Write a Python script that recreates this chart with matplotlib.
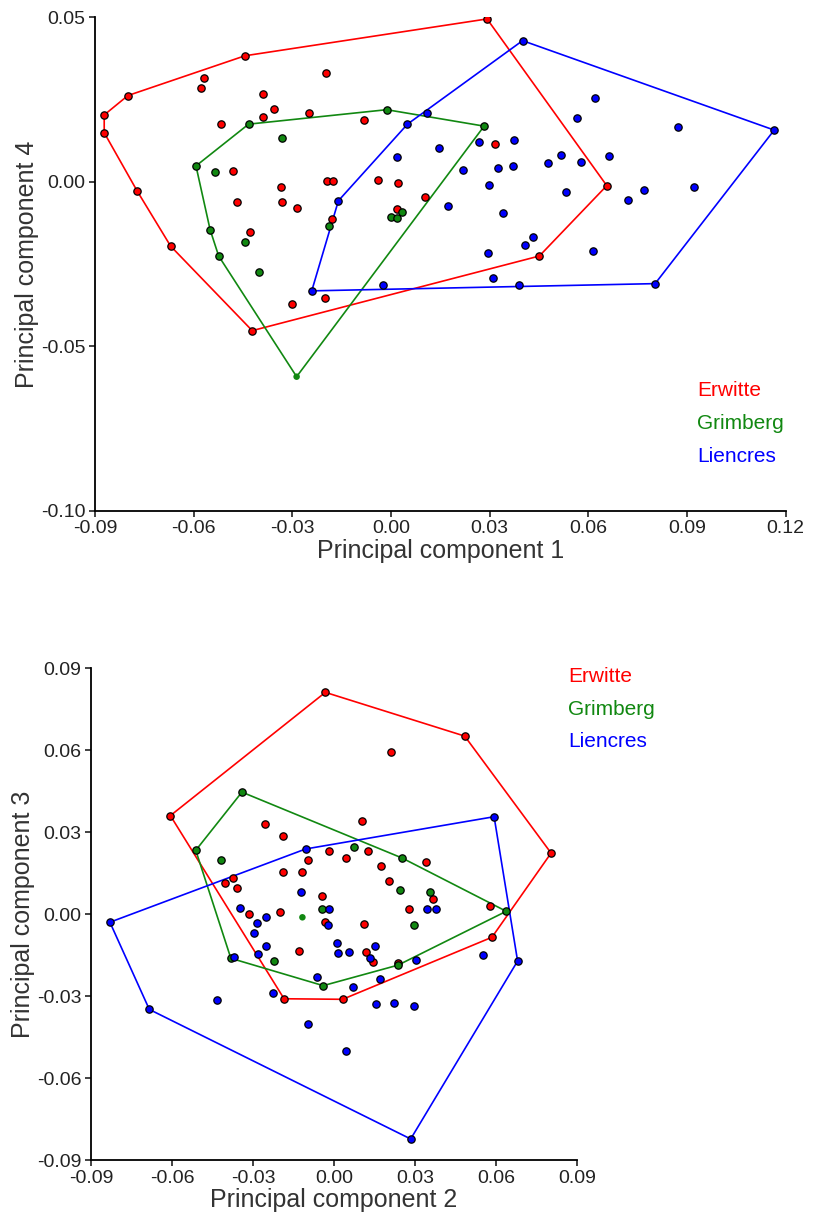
import numpy as np
import matplotlib
matplotlib.use("Agg")
import matplotlib.pyplot as plt

plt.rcParams["font.family"] = ["Liberation Sans", "DejaVu Sans"]
plt.rcParams["axes.unicode_minus"] = False

# ---- DATA ----
groups = ["Erwitte", "Grimberg", "Liencres"]
colors = {"Erwitte": "#ff0000", "Grimberg": "#118811", "Liencres": "#0000ff"}

# PC1 vs PC4
pc1_erwitte = [-0.0444, -0.080, -0.0872, -0.0872, -0.0772, -0.0569, -0.0577, -0.0389, -0.0356, -0.039,
               -0.0516, -0.025, -0.0199, -0.0479, -0.0333, -0.0196, -0.0176, -0.0469, -0.0331, -0.0287,
               -0.067, -0.0422, -0.0429, -0.0301, -0.020, -0.0179, 0.0292, -0.0082, 0.0315, -0.004,
               0.0022, 0.0104, 0.0017, 0.0451, 0.0656]
pc4_erwitte = [0.0383, 0.0262, 0.0203, 0.0149, -0.0028, 0.0316, 0.0284, 0.0266, 0.0222, 0.0198,
               0.0176, 0.021, 0.0331, 0.0033, -0.0017, 0.0002, 0.0002, -0.0063, -0.0061, -0.0079,
               -0.0196, -0.0453, -0.0152, -0.0371, -0.0354, -0.0113, 0.0495, 0.0187, 0.0116, 0.0006,
               -0.0004, -0.0047, -0.0084, -0.0226, -0.0012]

pc1_grimberg = [-0.0433, -0.033, -0.0593, -0.0535, -0.055, -0.0444, -0.0524, -0.040, -0.0188, -0.0013,
                0.0283, 0.0033, 0.0, 0.0017, -0.0287]
pc4_grimberg = [0.0175, 0.0134, 0.0048, 0.0029, -0.0146, -0.0183, -0.0226, -0.0275, -0.0134, 0.0219,
                0.0169, -0.0092, -0.0106, -0.0111, -0.0593]

pc1_liencres = [-0.016, -0.0241, 0.0400, 0.0108, 0.005, 0.0269, 0.0373, 0.0146, 0.0018, 0.0218,
                0.0325, 0.0372, 0.0478, 0.0298, 0.0173, 0.0341, 0.0432, 0.0408, 0.0294, 0.0311,
                0.0388, -0.0023, 0.0619, 0.0566, 0.0873, 0.1165, 0.0517, 0.0578, 0.0663, 0.0532,
                0.0769, 0.0722, 0.0920, 0.0614, 0.0803]
pc4_liencres = [-0.0058, -0.0332, 0.0429, 0.021, 0.0175, 0.0121, 0.0127, 0.0102, 0.0076, 0.0036,
                0.0041, 0.0049, 0.0056, -0.0011, -0.0075, -0.0096, -0.0168, -0.0192, -0.0218, -0.0293,
                -0.0314, -0.0315, 0.0255, 0.0193, 0.0165, 0.0157, 0.0082, 0.0061, 0.0079, -0.0032,
                -0.0025, -0.0057, -0.0015, -0.021, -0.031]

# PC2 vs PC3
pc2_erwitte = [-0.0032, -0.0606, -0.0254, -0.019, -0.0096, -0.0019, -0.0189, -0.0117, -0.0374, -0.0403,
               -0.036, -0.0046, -0.0314, -0.0199, -0.0032, -0.0129, -0.0185, 0.0484, 0.021, 0.0804,
               0.0103, 0.0127, 0.0043, 0.0341, 0.0175, 0.0204, 0.0368, 0.0277, 0.0579, 0.0585,
               0.011, 0.0119, 0.0143, 0.0237, 0.0032]
pc3_erwitte = [0.0812, 0.0361, 0.0329, 0.0286, 0.020, 0.0233, 0.0155, 0.0155, 0.0134, 0.0115,
               0.0097, 0.0066, 0.0002, 0.0007, -0.0028, -0.0134, -0.0309, 0.0652, 0.0593, 0.0224,
               0.0343, 0.0233, 0.0207, 0.019, 0.0178, 0.0122, 0.0057, 0.002, 0.0032, -0.0084,
               -0.0034, -0.0139, -0.0175, -0.0179, -0.0311]

pc2_grimberg = [-0.0341, -0.0512, -0.0419, -0.0046, 0.0073, 0.0252, 0.0243, 0.0356, 0.0638, 0.0297,
                0.0237, -0.004, -0.0382, -0.0222, -0.0117]
pc3_grimberg = [0.0447, 0.0234, 0.0198, 0.0019, 0.0247, 0.0206, 0.009, 0.0083, 0.0011, -0.0039,
                -0.0186, -0.0261, -0.0161, -0.0171, -0.0011]

pc2_liencres = [-0.0105, -0.0121, -0.0019, -0.0349, -0.083, -0.0684, -0.0284, -0.0251, -0.0022, -0.0297,
                -0.0252, -0.028, -0.037, -0.0063, -0.0225, -0.0432, -0.0097, 0.0593, 0.0343, 0.0378,
                0.0552, 0.068, 0.0284, 0.0044, 0.001, 0.0016, 0.0057, 0.0152, 0.0134, 0.0303,
                0.017, 0.0069, 0.0157, 0.0221, 0.0297]
pc3_liencres = [0.0239, 0.0082, 0.0019, 0.0022, -0.0029, -0.0348, -0.0032, -0.0011, -0.004, -0.0068,
                -0.0116, -0.0146, -0.0155, -0.0228, -0.0289, -0.0315, -0.040, 0.0357, 0.002, 0.002,
                -0.0149, -0.0171, -0.0822, -0.050, -0.0104, -0.014, -0.0139, -0.0116, -0.0159, -0.0168,
                -0.0236, -0.0267, -0.0329, -0.0323, -0.0337]

# the last Grimberg point in each panel is drawn without an outline
top_ticks_x = [-0.09, -0.06, -0.03, 0.00, 0.03, 0.06, 0.09, 0.12]
top_ticks_y = [-0.10, -0.05, 0.00, 0.05]
bot_ticks = [-0.09, -0.06, -0.03, 0.00, 0.03, 0.06, 0.09]


def hull(xs, ys):
    pts = sorted(set(zip(xs, ys)))

    def cross(o, a, b):
        return (a[0] - o[0]) * (b[1] - o[1]) - (a[1] - o[1]) * (b[0] - o[0])

    lower, upper = [], []
    for p in pts:
        while len(lower) >= 2 and cross(lower[-2], lower[-1], p) <= 0:
            lower.pop()
        lower.append(p)
    for p in reversed(pts):
        while len(upper) >= 2 and cross(upper[-2], upper[-1], p) <= 0:
            upper.pop()
        upper.append(p)
    h = lower[:-1] + upper[:-1]
    h.append(h[0])
    return np.array(h)


def panel(ax, data, xlabel, ylabel, xticks, yticks, leg_xy, leg_step):
    for g in groups:
        xs, ys = data[g]
        h = hull(xs, ys)
        ax.plot(h[:, 0], h[:, 1], color=colors[g], lw=1.2, zorder=2)
    for g in groups:
        xs, ys = data[g]
        if g == "Grimberg":
            ax.scatter(xs[:-1], ys[:-1], s=28, color=colors[g], edgecolors="black",
                       linewidths=0.9, zorder=3)
            ax.scatter(xs[-1:], ys[-1:], s=22, color=colors[g], edgecolors="none", zorder=3)
        else:
            ax.scatter(xs, ys, s=28, color=colors[g], edgecolors="black",
                       linewidths=0.9, zorder=3)
    ax.set_xlim(xticks[0], xticks[-1])
    ax.set_ylim(yticks[0], yticks[-1])
    ax.set_xticks(xticks)
    ax.set_yticks(yticks)
    ax.xaxis.set_major_formatter(matplotlib.ticker.FormatStrFormatter("%.2f"))
    ax.yaxis.set_major_formatter(matplotlib.ticker.FormatStrFormatter("%.2f"))
    for s in ["top", "right"]:
        ax.spines[s].set_visible(False)
    for s in ["left", "bottom"]:
        ax.spines[s].set_linewidth(1.3)
    ax.tick_params(direction="out", length=4, width=1.2, labelsize=14, colors="#222222", pad=3)
    ax.set_xlabel(xlabel, fontsize=18, color="#333333", labelpad=1)
    ax.set_ylabel(ylabel, fontsize=18, color="#333333", labelpad=1)
    lx, ly = leg_xy
    for i, g in enumerate(groups):
        ax.text(lx, ly - i * leg_step, g, transform=ax.transAxes, color=colors[g],
                fontsize=15, va="center", ha="left")


fig = plt.figure(figsize=(8.15, 12.2), dpi=100)

ax1 = fig.add_axes([95 / 815, 1 - 510.5 / 1220, 690.7 / 815, 493.2 / 1220])
panel(ax1,
      {"Erwitte": (pc1_erwitte, pc4_erwitte),
       "Grimberg": (pc1_grimberg, pc4_grimberg),
       "Liencres": (pc1_liencres, pc4_liencres)},
      "Principal component 1", "Principal component 4",
      top_ticks_x, top_ticks_y, (0.872, 0.244), 0.067)

ax2 = fig.add_axes([91 / 815, 1 - 1160.3 / 1220, 486 / 815, 492 / 1220])
panel(ax2,
      {"Erwitte": (pc2_erwitte, pc3_erwitte),
       "Grimberg": (pc2_grimberg, pc3_grimberg),
       "Liencres": (pc2_liencres, pc3_liencres)},
      "Principal component 2", "Principal component 3",
      bot_ticks, bot_ticks, (0.982, 0.983), 0.066)

fig.savefig("out.png", dpi=100)
